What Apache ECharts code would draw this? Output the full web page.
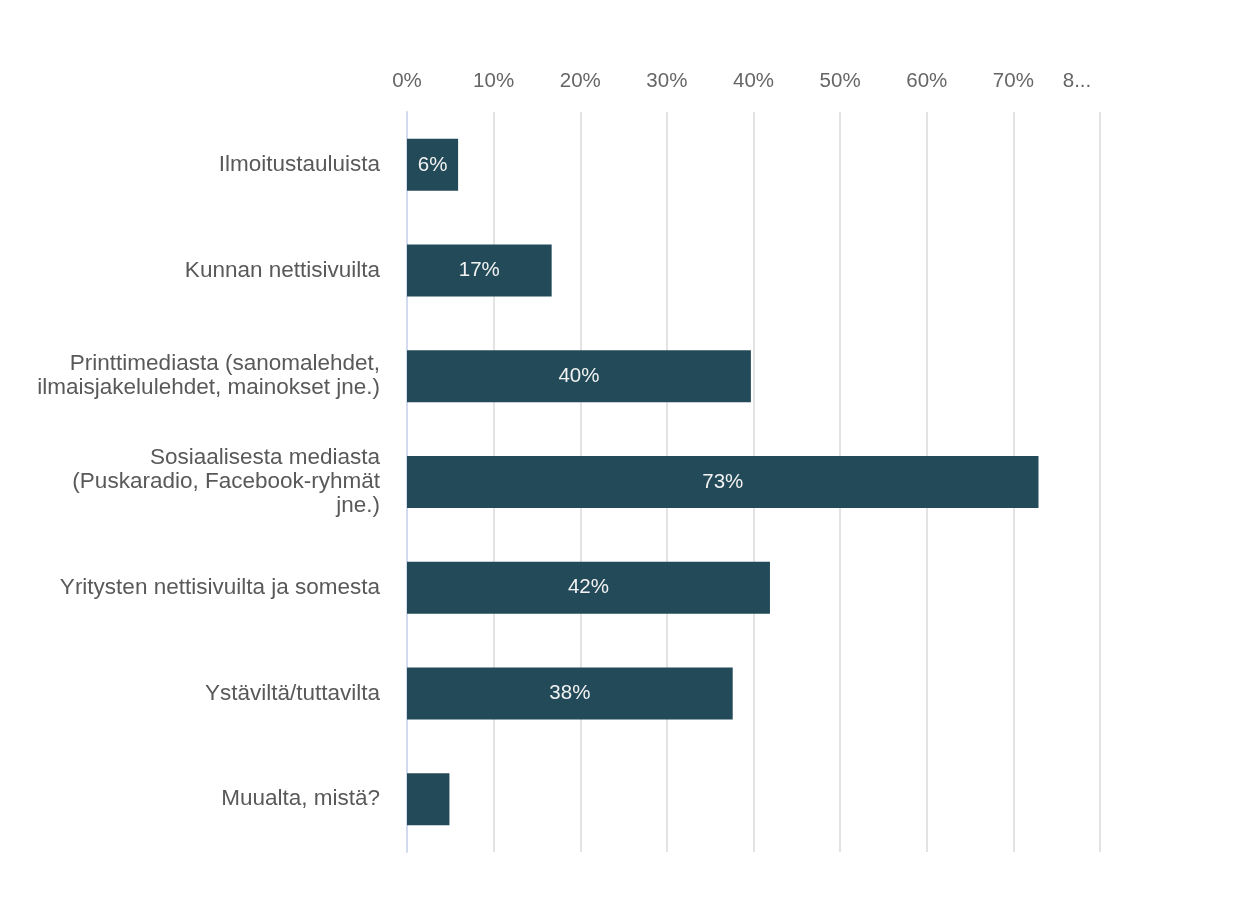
<!DOCTYPE html>
<html>
<head>
<meta charset="utf-8">
<script src="https://cdn.jsdelivr.net/npm/echarts@6/dist/echarts.min.js"></script>
<style>html,body{margin:0;padding:0;background:#fff;}#c{width:1242px;height:916px;}</style>
</head>
<body>
<div id="c"></div>
<script>
var categories = [
  'Ilmoitustauluista',
  'Kunnan nettisivuilta',
  'Printtimediasta (sanomalehdet,\nilmaisjakelulehdet, mainokset jne.)',
  'Sosiaalisesta mediasta\n(Puskaradio, Facebook-ryhmät\njne.)',
  'Yritysten nettisivuilta ja somesta',
  'Ystäviltä/tuttavilta',
  'Muualta, mistä?'
];
var values = [5.9, 16.7, 39.7, 72.9, 41.9, 37.6, 4.9];
var valueLabels = ['6%', '17%', '40%', '73%', '42%', '38%', ''];

var chart = echarts.init(document.getElementById('c'));
chart.setOption({
  animation: false,
  grid: { left: 407, right: 142, top: 112, bottom: 64, containLabel: false },
  xAxis: {
    type: 'value', position: 'top', min: 0, max: 80, interval: 10,
    axisLine: { show: false }, axisTick: { show: false },
    splitLine: { lineStyle: { color: '#e3e3e3', width: 2 } },
    axisLabel: {
      margin: 20, fontFamily: 'Liberation Sans', fontSize: 20.5, color: '#666666',
      formatter: function (v) { return v === 80 ? '{t|8...}' : v + '%'; },
      rich: { t: { fontFamily: 'Liberation Sans', fontSize: 20.5, color: '#666666', padding: [0, 46, 0, 0] } }
    }
  },
  yAxis: {
    type: 'category', data: categories, inverse: true,
    axisLine: { show: true, lineStyle: { color: '#d3daee', width: 2 } },
    axisTick: { show: false },
    axisLabel: { margin: 27, fontFamily: 'Liberation Sans', fontSize: 22.5, color: '#595959', lineHeight: 24, align: 'right' }
  },
  series: [{
    type: 'bar', data: values, barWidth: 52,
    itemStyle: { color: '#234a58' },
    label: {
      show: true, position: 'inside', fontFamily: 'Liberation Sans', fontSize: 20.5, color: '#f2f2f2',
      formatter: function (p) { return valueLabels[p.dataIndex]; }
    }
  }]
});
</script>
</body>
</html>
